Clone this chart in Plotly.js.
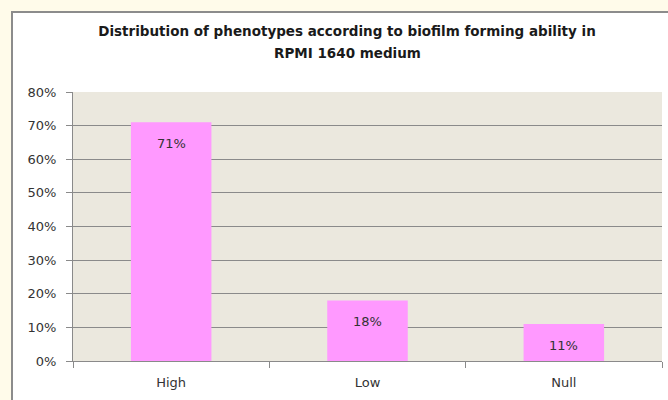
<!DOCTYPE html>
<html>
<head>
<meta charset="utf-8">
<script src="https://cdn.plot.ly/plotly-3.0.1.min.js"></script>
<style>
html,body{margin:0;padding:0;width:668px;height:400px;overflow:hidden;background:#FFFBEA;}
#frame{position:absolute;left:11px;top:11px;width:700px;height:420px;border-left:2px solid #8C8C8C;border-top:2px solid #8C8C8C;background:#ffffff;}
#chart{position:absolute;left:0;top:0;width:655px;height:387px;}
</style>
</head>
<body>
<div id="frame"><div id="chart"></div></div>
<script>
const categories = ["High", "Low", "Null"];
const values = [0.71, 0.18, 0.11];
const labels = ["71%", "18%", "11%"];
const titleLine1 = "Distribution of phenotypes according to biofilm forming ability in";
const titleLine2 = "RPMI 1640 medium";

const tickFont = {family: "DejaVu Sans", size: 13, color: "#333333"};
const titleFont = {family: "DejaVu Sans", size: 13.5, color: "#1a1a1a", weight: "bold"};

const trace = {
  type: "bar",
  x: categories,
  y: values,
  marker: {color: "#FF99FF", line: {width: 0}},
  hoverinfo: "none"
};

const annotations = categories.map((c, i) => ({
  x: c, y: values[i], xref: "x", yref: "y",
  text: labels[i], showarrow: false, yshift: -21,
  font: {family: "DejaVu Sans", size: 13, color: "#333333"}
}));
annotations.push({
  xref: "paper", yref: "paper", x: (334 - 60) / 589, y: 1 + (79 - 40) / 269,
  xanchor: "center", yanchor: "middle", showarrow: false,
  text: titleLine2, font: titleFont
});

const layout = {
  width: 655, height: 387,
  margin: {l: 60, r: 6, t: 79, b: 39},
  paper_bgcolor: "#ffffff",
  plot_bgcolor: "#EBE8DE",
  showlegend: false,
  bargap: 0.59,
  title: {
    text: titleLine1,
    font: titleFont,
    x: 334 / 655, xanchor: "center", y: 1 - 18 / 387, yanchor: "middle"
  },
  xaxis: {
    type: "category",
    showgrid: false,
    showline: true, linecolor: "#8A8A8A", linewidth: 1,
    ticks: "outside", tickson: "boundaries", ticklen: 6, tickcolor: "#8A8A8A",
    tickfont: tickFont, ticklabelstandoff: 9,
    zeroline: false, fixedrange: true
  },
  yaxis: {
    range: [0, 0.8], dtick: 0.1, tickformat: ".0%",
    showgrid: true, gridcolor: "#8A8A8A", gridwidth: 1,
    showline: true, linecolor: "#8A8A8A", linewidth: 1,
    ticks: "outside", ticklen: 6, tickcolor: "#8A8A8A",
    tickfont: tickFont, ticklabelstandoff: 7,
    zeroline: false, fixedrange: true
  },
  annotations: annotations
};

Plotly.newPlot("chart", [trace], layout, {displayModeBar: false, staticPlot: true});
</script>
</body>
</html>
